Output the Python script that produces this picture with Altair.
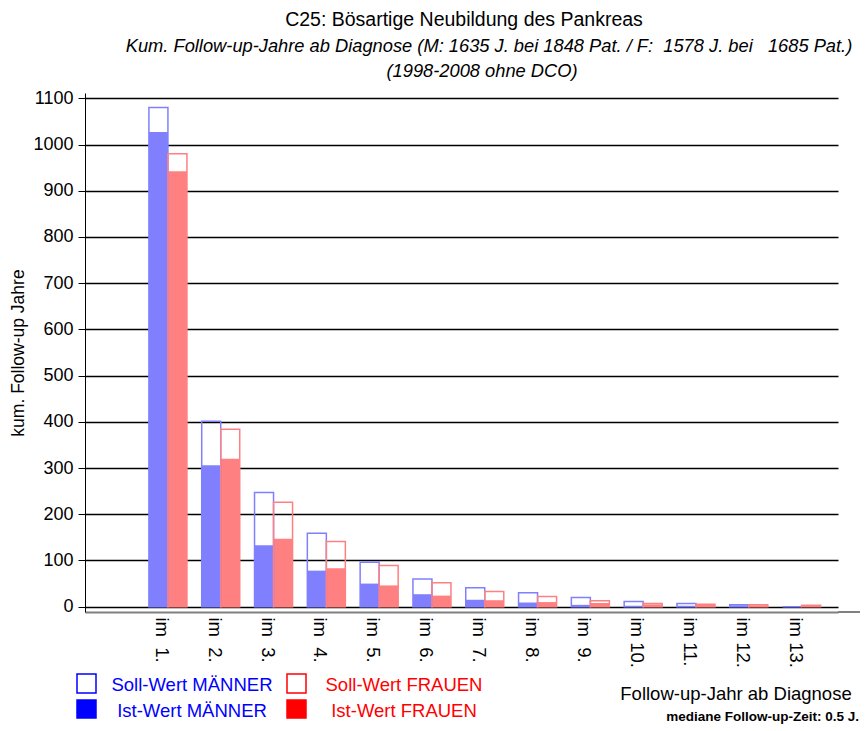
import altair as alt
import pandas as pd

years = [f"im\u00a0\u00a0{i}." if i < 10 else f"im {i}." for i in range(1, 14)]
soll_m = [1080, 401, 247, 159, 96, 60, 41, 30, 20, 11, 7, 4, 0]
ist_m = [1027, 306, 133, 78, 50, 27, 15, 9, 4, 2, 2, 3, 0]
soll_f = [980, 384, 226, 141, 89, 52, 33, 22, 13, 7, 5, 4, 3]
ist_f = [942, 320, 147, 83, 46, 24, 14, 10, 8, 5, 4, 3, 2]

rows = []
for i, y in enumerate(years):
    rows.append({"jahr": y, "sex": "M", "soll": soll_m[i], "ist": ist_m[i]})
    rows.append({"jahr": y, "sex": "F", "soll": soll_f[i], "ist": ist_f[i]})
df = pd.DataFrame(rows)

FONT = "Liberation Sans"
W, H = 753, 519

xenc = alt.X("jahr:N", sort=years,
             scale=alt.Scale(paddingInner=0.28, paddingOuter=0.77, align=0.786),
             axis=alt.Axis(title=None, labelAngle=90, labelAlign="left", labelBaseline="middle",
                           ticks=False, labelPadding=5, labelOffset=-6, labelFontSize=18.5,
                           labelFont=FONT, labelColor="black", domainColor="#808080",
                           domainWidth=2, grid=False))
xoff = alt.XOffset("sex:N", sort=["M", "F"], scale=alt.Scale(domain=["M", "F"], paddingInner=0, paddingOuter=0))
colscale = alt.Scale(domain=["M", "F"], range=["#8080ff", "#ff8080"])
yscale = alt.Scale(domain=[-11.5, 1111.5], nice=False, zero=False)
yaxis = alt.Axis(values=list(range(0, 1200, 100)), format="d", title="kum. Follow-up Jahre",
                 titleFont=FONT, titleFontSize=17.5, titleFontWeight="normal", titleColor="black",
                 titleX=-67, titleY=H / 2, titleAngle=-90, titleBaseline="middle", titleAlign="center",
                 labelFont=FONT, labelFontSize=18, labelColor="black",
                 tickSize=7, tickColor="black", labelPadding=5, domainColor="black",
                 gridColor="black", gridWidth=1.6)

base = alt.Chart(df)
ist = base.mark_bar(opacity=1).encode(
    x=xenc, xOffset=xoff,
    y=alt.Y("ist:Q", scale=yscale, axis=yaxis),
    y2=alt.datum(0),
    color=alt.Color("sex:N", scale=colscale, legend=None),
)
soll = base.mark_bar(filled=False, strokeWidth=1.5).encode(
    x=xenc, xOffset=xoff,
    y=alt.Y("soll:Q", scale=yscale),
    y2=alt.datum(0),
    color=alt.Color("sex:N", scale=colscale, legend=None),
)

one = pd.DataFrame({"a": [0]})


def txt(text, x, y, size=16, color="black", align="center", italic=False, bold=False, baseline="alphabetic"):
    return alt.Chart(one).mark_text(text=text, font=FONT, fontSize=size, color=color, align=align,
                                    baseline=baseline,
                                    fontStyle="italic" if italic else "normal",
                                    fontWeight="bold" if bold else "normal").encode(
        x=alt.value(x), y=alt.value(y))


def box(x1, x2, y1, y2, color, filled):
    m = alt.Chart(one).mark_rect(fill=color if filled else "transparent", stroke=color, strokeWidth=1.5)
    return m.encode(x=alt.value(x1), x2=alt.value(x2), y=alt.value(y1), y2=alt.value(y2))


texts = [
    txt("C25: Bösartige Neubildung des Pankreas", 379, -67, size=19.5),
    txt("Kum. Follow-up-Jahre ab Diagnose (M: 1635 J. bei 1848 Pat. / F:\u00a0 1578 J. bei \u00a0 1685 Pat.)",
        404, -41, size=18.3, italic=True),
    txt("(1998-2008 ohne DCO)", 397, -16, size=18.3, italic=True),
    txt("Soll-Wert MÄNNER", 107, 592, size=18.5, color="#0000ff", baseline="middle"),
    txt("Ist-Wert MÄNNER", 107, 618, size=18.5, color="#0000ff", baseline="middle"),
    txt("Soll-Wert FRAUEN", 319, 592, size=18.5, color="#ff0000", baseline="middle"),
    txt("Ist-Wert FRAUEN", 319, 618, size=18.5, color="#ff0000", baseline="middle"),
    txt("Follow-up-Jahr ab Diagnose", 651, 601, size=18.5, baseline="middle"),
    txt("mediane Follow-up-Zeit: 0.5 J.", 774, 624, size=13.5, bold=True, align="right", baseline="middle"),
]
boxes = [
    box(-8, 11, 581, 600, "#0000ff", False),
    box(-8, 11, 607, 625, "#0000ff", True),
    box(202, 221, 581, 600, "#ff0000", False),
    box(202, 221, 607, 625, "#ff0000", True),
]
axis_ext = alt.Chart(one).mark_rule(color="#808080", strokeWidth=2).encode(
    x=alt.value(W), x2=alt.value(W + 22), y=alt.value(H))

chart = alt.layer(ist, soll, axis_ext, *texts, *boxes).properties(
    width=W, height=H,
    autosize=alt.AutoSizeParams(type="none"),
    padding={"left": 77, "top": 85, "right": 22, "bottom": 115},
).configure_view(stroke=None).resolve_scale(x="shared")

chart.save("out.html", embed_options={"renderer": "svg", "actions": False})
